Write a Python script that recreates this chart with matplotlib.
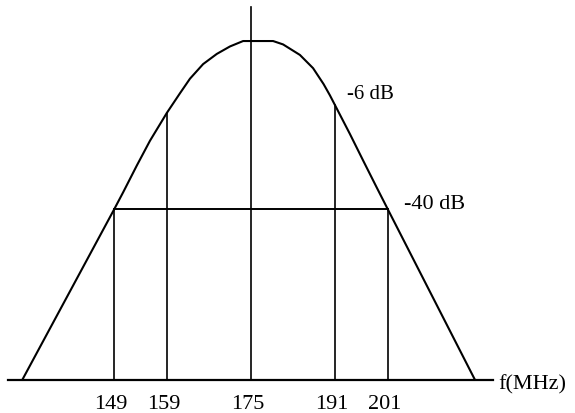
import numpy as np
import matplotlib.pyplot as plt

# filter response sketch: frequency (MHz) vs relative level (peak = 100)
curve_freq = [131.5, 149.0, 150.7, 153.3, 155.8, 158.3, 159.0, 161.5, 163.4,
              165.9, 168.5, 171.0, 173.5, 179.2, 181.1, 184.3, 186.8, 188.8,
              190.0, 191.0, 193.8, 196.4, 198.9, 201.0, 217.6]
curve_level = [0.0, 50.4, 55.4, 63.3, 70.6, 77.0, 78.8, 84.6, 88.9,
               93.2, 96.2, 98.4, 100.0, 100.0, 99.0, 95.9, 92.0, 87.3,
               84.0, 81.0, 72.6, 64.5, 56.8, 50.4, 0.0]

tick_freq = [149, 159, 175, 191, 201]
tick_labels = ['149', '159', '175', '191', '201']
line_tops = [50.4, 78.8, 110.0, 81.0, 50.4]

level_40db = 50.4
baseline_span = [128.8, 221.0]

plt.rcParams['font.family'] = ['Liberation Serif', 'DejaVu Serif']

fig = plt.figure(figsize=(5.75, 4.14), dpi=100)
ax = fig.add_axes([0, 0, 1, 1])
ax.set_xlim(127.28, 236.6)
ax.set_ylim(-9.73, 112.4)
ax.axis('off')

ax.plot(curve_freq, curve_level, color='black', lw=1.5,
        solid_joinstyle='round', solid_capstyle='round')
ax.plot(baseline_span, [0, 0], color='black', lw=1.6)
ax.plot([tick_freq[0], tick_freq[-1]], [level_40db, level_40db], color='black', lw=1.4)
for f, top in zip(tick_freq, line_tops):
    ax.plot([f, f], [0, top], color='black', lw=1.2)

for f, lab in zip(tick_freq, tick_labels):
    ax.text(f - 0.6, -7.0, lab, ha='center', va='center', fontsize=16)

ax.text(222.0, -1.0, 'f(MHz)', ha='left', va='center', fontsize=16)
ax.text(193.3, 84.4, '-6 dB', ha='left', va='center', fontsize=15)
ax.text(204.0, 52.0, '-40 dB', ha='left', va='center', fontsize=16)

fig.savefig('out.png', dpi=100)
